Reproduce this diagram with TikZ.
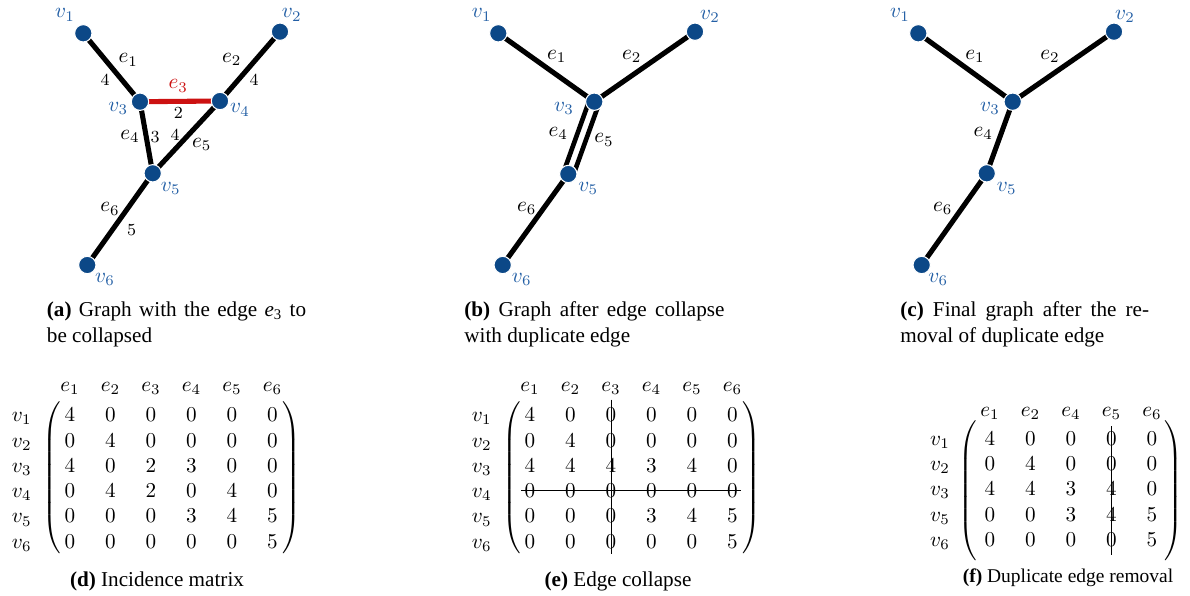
\documentclass[tikz,border=0pt]{standalone}
\usepackage[no-math]{fontspec}
\setmainfont{Liberation Serif}
\usetikzlibrary{calc,backgrounds}
\definecolor{dotblue}{RGB}{12,72,135}
\definecolor{labblue}{RGB}{35,95,165}
\definecolor{edgered}{RGB}{204,17,17}
\newcommand\mylpar[1]{$\delimitershortfall=0pt\delimiterfactor=1000\nulldelimiterspace=0pt\left(\vcenter{\hrule height #1 width 0pt}\right.$}
\newcommand\myrpar[1]{$\delimitershortfall=0pt\delimiterfactor=1000\nulldelimiterspace=0pt\left.\vcenter{\hrule height #1 width 0pt}\right)$}
\tikzset{
  vert/.style={circle, fill=dotblue, draw=white, line width=0.5pt, minimum size=8.2pt, inner sep=0pt},
  vlab/.style={text=labblue, inner sep=0pt},
  elab/.style={inner sep=0pt},
  wlab/.style={inner sep=0pt, font=\footnotesize},
  gedge/.style={line width=2.4pt, black},
  redge/.style={line width=2.4pt, edgered},
  ent/.style={anchor=base, inner sep=0pt},
  strike/.style={line width=0.45pt, black},
  captxt/.style={inner sep=0pt},
  paren/.style={inner sep=0pt},
}
\begin{document}
\begin{tikzpicture}[x=0.4725pt,y=-0.4725pt]
\useasboundingbox (0,0) rectangle (1190,596);

% ---------------- (a) ----------------
\node[vert] (a1) at (83.3,33.3) {};
\node[vert] (a2) at (280,31.7) {};
\node[vert] (a3) at (140,101.7) {};
\node[vert] (a4) at (220,101) {};
\node[vert] (a5) at (152.7,173.3) {};
\node[vert] (a6) at (87.3,265) {};
\begin{pgfonlayer}{background}
\draw[gedge] (a1.center) -- (a3.center);
\draw[gedge] (a2.center) -- (a4.center);
\draw[redge] (a3.center) -- (a4.center);
\draw[gedge] (a3.center) -- (a5.center);
\draw[gedge] (a4.center) -- (a5.center);
\draw[gedge] (a5.center) -- (a6.center);
\end{pgfonlayer}
\node[vlab] (al1) at (65,15) {$v_1$};
\node[vlab] (al2) at (291.7,15) {$v_2$};
\node[vlab] (al3) at (118.3,108.3) {$v_3$};
\node[vlab] (al4) at (240,110) {$v_4$};
\node[vlab] (al5) at (170.7,188.3) {$v_5$};
\node[vlab] (al6) at (105,279.3) {$v_6$};
\node[elab] (ae1) at (128.3,60) {$e_1$};
\node[wlab] (aw1) at (105,80) {$4$};
\node[elab] (ae2) at (231.7,59.3) {$e_2$};
\node[wlab] (aw2) at (254,80) {$4$};
\node[elab, text=edgered] (ae3) at (178.3,86) {$e_3$};
\node[wlab] (aw3) at (178.3,113.3) {$2$};
\node[elab] (ae4) at (130,136.7) {$e_4$};
\node[wlab] (aw4) at (155,136.7) {$3$};
\node[wlab] (aw5) at (175,135) {$4$};
\node[elab] (ae5) at (201.7,144.3) {$e_5$};
\node[elab] (ae6) at (110,209) {$e_6$};
\node[wlab] (aw6) at (131.7,230) {$5$};
\node[captxt, anchor=base west] (capa1) at (46.5,316.5) {\makebox[122.5pt][s]{\textbf{(a)} Graph with the edge \textit{e}\textsubscript{3} to}};
\node[captxt, anchor=base west] (capa2) at (46.5,342) {be collapsed};

% ---------------- (b) ----------------
\node[vert] (b1) at (498.3,33.3) {};
\node[vert] (b2) at (695,31.7) {};
\node[vert] (b3) at (594.3,101.7) {};
\node[vert] (b5) at (568.3,174) {};
\node[vert] (b6) at (502.7,265) {};
\begin{pgfonlayer}{background}
\draw[gedge] (b1.center) -- (b3.center);
\draw[gedge] (b2.center) -- (b3.center);
\draw[gedge, line width=2.2pt] ($(b3.center)!2.4pt!-90:(b5.center)$) -- ($(b5.center)!2.4pt!90:(b3.center)$);
\draw[gedge, line width=2.2pt] ($(b3.center)!2.4pt!90:(b5.center)$) -- ($(b5.center)!2.4pt!-90:(b3.center)$);
\draw[gedge] (b5.center) -- (b6.center);
\end{pgfonlayer}
\node[vlab] (bl1) at (481.7,15) {$v_1$};
\node[vlab] (bl2) at (710,16.7) {$v_2$};
\node[vlab] (bl3) at (564,108.3) {$v_3$};
\node[vlab] (bl5) at (588.3,188.3) {$v_5$};
\node[vlab] (bl6) at (521.7,279.3) {$v_6$};
\node[elab] (be1) at (556.7,56.7) {$e_1$};
\node[elab] (be2) at (631.7,56.7) {$e_2$};
\node[elab] (be4) at (558.3,133.3) {$e_4$};
\node[elab] (be5) at (604,140) {$e_5$};
\node[elab] (be6) at (526.7,208.3) {$e_6$};
\node[captxt, anchor=base west] (capb1) at (464,316.5) {\makebox[122.9pt][s]{\textbf{(b)} Graph after edge collapse}};
\node[captxt, anchor=base west] (capb2) at (464,342) {with duplicate edge};

% ---------------- (c) ----------------
\node[vert] (c1) at (918.3,33.3) {};
\node[vert] (c2) at (1114,31.7) {};
\node[vert] (c3) at (1012.7,101.7) {};
\node[vert] (c5) at (986.7,173.3) {};
\node[vert] (c6) at (921.7,265) {};
\begin{pgfonlayer}{background}
\draw[gedge] (c1.center) -- (c3.center);
\draw[gedge] (c2.center) -- (c3.center);
\draw[gedge] (c3.center) -- (c5.center);
\draw[gedge] (c5.center) -- (c6.center);
\end{pgfonlayer}
\node[vlab] (cl1) at (900,15) {$v_1$};
\node[vlab] (cl2) at (1125,16.7) {$v_2$};
\node[vlab] (cl3) at (990,108.3) {$v_3$};
\node[vlab] (cl5) at (1006.7,188.3) {$v_5$};
\node[vlab] (cl6) at (938.3,279.3) {$v_6$};
\node[elab] (ce1) at (975,56.7) {$e_1$};
\node[elab] (ce2) at (1050,56.7) {$e_2$};
\node[elab] (ce4) at (983.3,133.3) {$e_4$};
\node[elab] (ce6) at (942.7,208.3) {$e_6$};
\node[captxt, anchor=base west] (capc1) at (900,316.5) {\makebox[117.5pt][s]{\textbf{(c)} Final graph after the re-}};
\node[captxt, anchor=base west] (capc2) at (900,342) {moval of duplicate edge};

% ---------------- (d) ----------------
\foreach \h in {1,...,6}
  \node[ent] (dh-\h) at ({70+40.5*(\h-1)},391.7) {$e_{\h}$};
\foreach \rowvals [count=\r] in {{4,0,0,0,0,0},{0,4,0,0,0,0},{4,0,2,3,0,0},{0,4,2,0,4,0},{0,0,0,3,4,5},{0,0,0,0,0,5}}{
  \node[ent] (dl-\r) at (21.7,{421.7+25.3*(\r-1)}) {$v_{\r}$};
  \foreach \val [count=\c] in \rowvals
    \node[ent] (d-\r-\c) at ({70+40.5*(\c-1)},{421.7+25.3*(\r-1)}) {$\val$};
}
\node[paren] (dlp) at (51.6,477.5) {\mylpar{71.6pt}};
\node[paren] (drp) at (292,477.5) {\myrpar{71.6pt}};
\node[captxt, anchor=base] (capd) at (157,586.5) {\textbf{(d)} Incidence matrix};

% ---------------- (e) ----------------
\foreach \h in {1,...,6}
  \node[ent] (eh-\h) at ({530+40.5*(\h-1)},391.7) {$e_{\h}$};
\foreach \rowvals [count=\r] in {{4,0,0,0,0,0},{0,4,0,0,0,0},{4,4,4,3,4,0},{0,0,0,0,0,0},{0,0,0,3,4,5},{0,0,0,0,0,5}}{
  \node[ent] (el-\r) at (481.7,{421.7+25.3*(\r-1)}) {$v_{\r}$};
  \foreach \val [count=\c] in \rowvals
    \node[ent] (e-\r-\c) at ({530+40.5*(\c-1)},{421.7+25.3*(\r-1)}) {$\val$};
}
\node[paren] (elp) at (511.6,477.5) {\mylpar{71.6pt}};
\node[paren] (erp) at (752,477.5) {\myrpar{71.6pt}};
\draw[strike] ([yshift=3.8pt]e-1-3.north) -- ([yshift=-2.4pt]e-6-3.south);
\draw[strike] ([xshift=-1.5pt]e-4-1.west) -- ([xshift=1.5pt]e-4-6.east);
\node[captxt, anchor=base] (cape) at (618,586.5) {\textbf{(e)} Edge collapse};

% ---------------- (f) ----------------
\foreach \h [count=\c] in {1,2,4,5,6}
  \node[ent] (fh-\c) at ({990+40.5*(\c-1)},416.7) {$e_{\h}$};
\foreach \lab [count=\r] in {1,2,3,5,6}
  \node[ent] (fl-\r) at (940,{445+25.4*(\r-1)}) {$v_{\lab}$};
\foreach \rowvals [count=\r] in {{4,0,0,0,0},{0,4,0,0,0},{4,4,3,4,0},{0,0,3,4,5},{0,0,0,0,5}}{
  \foreach \val [count=\c] in \rowvals
    \node[ent] (f-\r-\c) at ({990+40.5*(\c-1)},{445+25.4*(\r-1)}) {$\val$};
}
\node[paren] (flp) at (967.5,490.5) {\mylpar{60.3pt}};
\node[paren] (frp) at (1174,490.5) {\myrpar{60.3pt}};
\draw[strike] ([yshift=2.2pt]f-1-4.north) -- ([yshift=-4pt]f-5-4.south);
\node[captxt, anchor=base, font=\fontsize{9.2pt}{11pt}\selectfont] (capf) at (1068,582) {\textbf{(f)} Duplicate edge removal};
\end{tikzpicture}
\end{document}
